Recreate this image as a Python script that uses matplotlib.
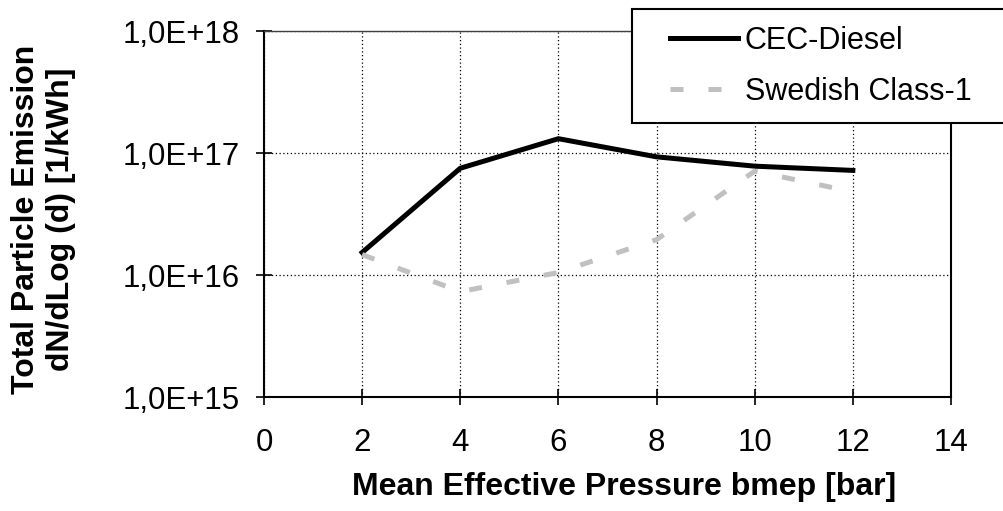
import math
import matplotlib
matplotlib.use("Agg")
import matplotlib.pyplot as plt
from matplotlib.ticker import FixedLocator, FuncFormatter, NullLocator
from matplotlib.legend_handler import HandlerLine2D
from matplotlib.lines import Line2D

plt.rcParams['font.family'] = ['Liberation Sans', 'DejaVu Sans']

bmep = [2, 4, 6, 8, 10, 12]
cec_diesel = [1.53e16, 7.5e16, 1.31e17, 9.3e16, 7.8e16, 7.2e16]
swedish_class1 = [1.47e16, 7.3e15, 1.05e16, 1.95e16, 7.1e16, 4.8e16]
x_ticks = [0, 2, 4, 6, 8, 10, 12, 14]
y_ticks = [1e15, 1e16, 1e17, 1e18]
series_labels = ["CEC-Diesel", "Swedish Class-1"]

W, H = 1004, 511
AX_L, AX_R, AX_T, AX_B = 264, 951, 31, 397
fig = plt.figure(figsize=(W / 100, H / 100), dpi=100)
ax = fig.add_axes([AX_L / W, 1 - AX_B / H, (AX_R - AX_L) / W, (AX_B - AX_T) / H])

ax.plot(bmep, cec_diesel, color='black', lw=3.6, solid_joinstyle='miter',
        label=series_labels[0], zorder=3)
ax.plot(bmep, swedish_class1, color='#c0c0c0', lw=3.6, linestyle=(0, (2.6, 5.0)),
        label=series_labels[1], zorder=3)

ax.set_yscale('log')
ax.set_xlim(0, 14)
ax.set_ylim(1e15, 1e18)
ax.xaxis.set_major_locator(FixedLocator(x_ticks))
ax.yaxis.set_major_locator(FixedLocator(y_ticks))
ax.yaxis.set_minor_locator(NullLocator())


def fmt(v, pos):
    e = int(round(math.log10(v)))
    return "1,0E+%02d" % e


ax.yaxis.set_major_formatter(FuncFormatter(fmt))
ax.tick_params(axis='both', which='major', direction='inout', length=11, width=1.2,
               labelsize=22.5, color='black')
ax.tick_params(axis='x', pad=17)
ax.tick_params(axis='y', pad=12)

ax.grid(True, which='major', color='black', linestyle=(0, (1, 2)), linewidth=0.9)
for s in ['left', 'bottom', 'right']:
    ax.spines[s].set_linewidth(1.5)
    ax.spines[s].set_color('black')
ax.spines['top'].set_linewidth(1.0)
ax.spines['top'].set_color('#404040')

ax.set_xlabel("Mean Effective Pressure bmep [bar]", fontsize=23, fontweight='bold')
ax.xaxis.set_label_coords((624 - AX_L) / (AX_R - AX_L), (AX_B - 487) / (AX_B - AX_T))
ax.xaxis.label.set_va('center')
ax.set_ylabel("Total Particle Emission\ndN/dLog (d) [1/kWh]", fontsize=23,
              fontweight='bold', linespacing=1.25)
ax.yaxis.set_label_coords((43.5 - AX_L) / (AX_R - AX_L), (AX_B - 219.5) / (AX_B - AX_T))
ax.yaxis.label.set_va('center')

FS = 22
fs_px = FS * 100 / 72
bpad = 0.55
xpad = (38 - bpad * fs_px) / fs_px
hmap = {Line2D: HandlerLine2D(xpad=xpad)}
leg = ax.legend(loc='upper left', bbox_to_anchor=(632 / W, 1 - 117 / H, (1010 - 632) / W, (117 - 9) / H),
                bbox_transform=fig.transFigure, mode='expand', fontsize=FS,
                frameon=True, fancybox=False, shadow=False, borderpad=bpad,
                handlelength=68 / fs_px + xpad, handletextpad=0.22, labelspacing=0.68,
                borderaxespad=0, handler_map=hmap)
leg.get_frame().set_edgecolor('black')
leg.get_frame().set_linewidth(1.5)
leg.get_frame().set_facecolor('white')
leg.get_frame().set_alpha(1)
leg.set_clip_on(False)

fig.savefig("out.png", dpi=100)
